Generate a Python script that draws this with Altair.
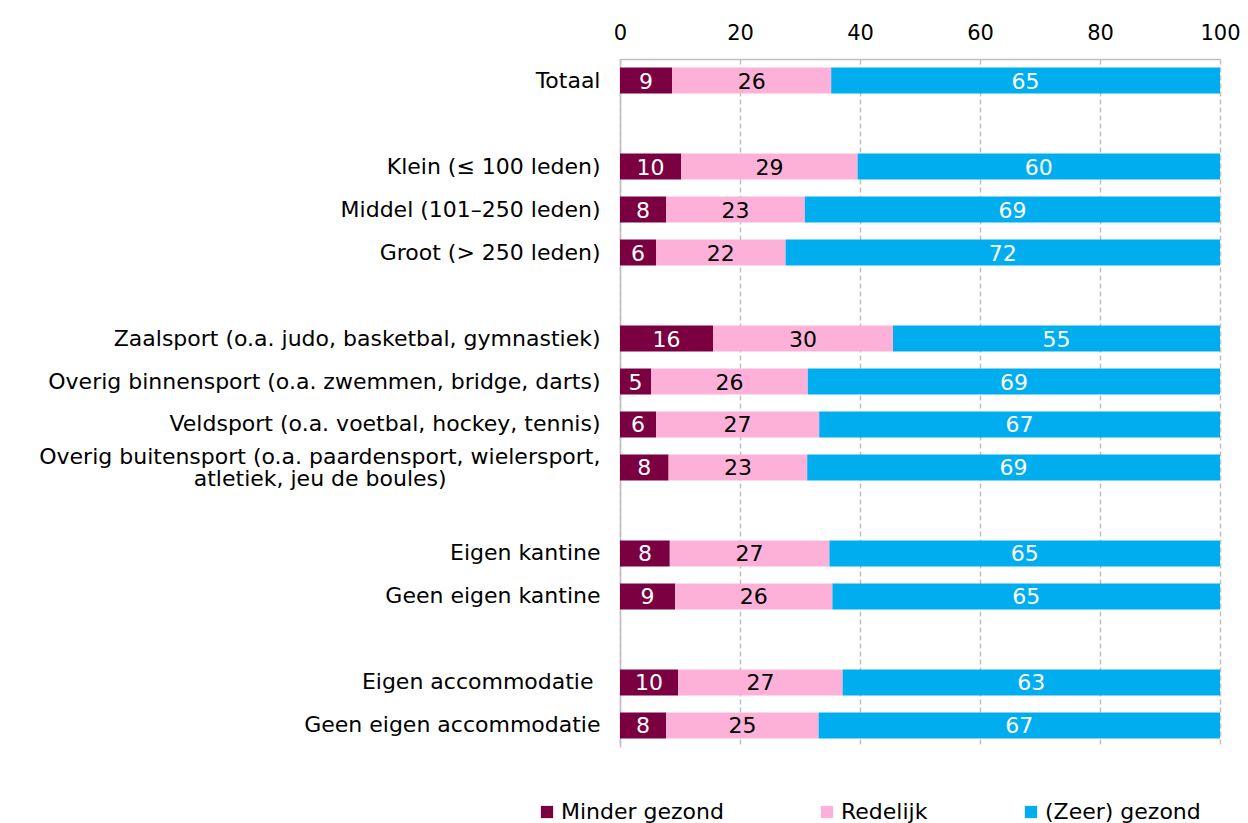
import altair as alt
import pandas as pd

NB = "\u00a0"
ZW = "\u200b"
categories = [
    "Totaal",
    "Klein (≤ 100 leden)",
    "Middel (101–250 leden)",
    "Groot (> 250 leden)",
    "Zaalsport (o.a. judo, basketbal, gymnastiek)",
    "Overig binnensport (o.a. zwemmen, bridge, darts)",
    "Veldsport (o.a. voetbal, hockey, tennis)",
    "Overig buitensport (o.a. paardensport, wielersport,|atletiek, jeu de boules)" + NB * 22 + ZW,
    "Eigen kantine",
    "Geen eigen kantine",
    "Eigen accommodatie" + NB + ZW,
    "Geen eigen accommodatie",
]
# full row order incl. empty spacer rows
rows = [categories[0], " ",
        categories[1], categories[2], categories[3], "  ",
        categories[4], categories[5], categories[6], categories[7], "   ",
        categories[8], categories[9], "    ",
        categories[10], categories[11]]

series = ["Minder gezond", "Redelijk", "(Zeer) gezond"]
colors = ["#7B0041", "#FDB1D8", "#00AEEF"]
text_colors = ["white", "black", "white"]

minder = [8.7, 10.2, 7.7, 6.0, 15.5, 5.2, 6.0, 8.1, 8.3, 9.2, 9.7, 7.7]
redelijk = [26.5, 29.4, 23.1, 21.6, 30.0, 26.1, 27.2, 23.1, 26.6, 26.2, 27.4, 25.4]
zeer = [64.8, 60.4, 69.2, 72.4, 54.5, 68.7, 66.8, 68.8, 65.1, 64.6, 62.9, 66.9]

minder_lbl = [9, 10, 8, 6, 16, 5, 6, 8, 8, 9, 10, 8]
redelijk_lbl = [26, 29, 23, 22, 30, 26, 27, 23, 27, 26, 27, 25]
zeer_lbl = [65, 60, 69, 72, 55, 69, 67, 69, 65, 65, 63, 67]

recs = []
for vals, lbls, s_i in ((minder, minder_lbl, 0), (redelijk, redelijk_lbl, 1), (zeer, zeer_lbl, 2)):
    for c, v, l in zip(categories, vals, lbls):
        recs.append({"cat": c, "series": series[s_i], "value": v, "label": str(l),
                     "order": s_i, "tcolor": text_colors[s_i]})
df = pd.DataFrame(recs)

FONT = "DejaVu Sans"
FS = 22

y_enc = alt.Y("cat:N", scale=alt.Scale(domain=rows, paddingInner=0.395, paddingOuter=0.2),
              axis=alt.Axis(title=None, ticks=False, domainColor="#BFBFBF", domainWidth=1.5,
                            labelFontSize=FS, labelFont=FONT, labelColor="black",
                            labelPadding=20, labelLimit=800, labelLineHeight=22,
                            labelOffset={"condition": {"test": "indexof(datum.value, '|') >= 0",
                                                       "value": -10}, "value": 0},
                            labelExpr="split(datum.value, '|')"))

base = alt.Chart(df)

bars = base.mark_bar().encode(
    y=y_enc,
    x=alt.X("value:Q", stack="zero", scale=alt.Scale(domain=[0, 100], nice=False),
            axis=alt.Axis(orient="top", title=None, values=[0, 20, 40, 60, 80, 100],
                          ticks=False, domainColor="#BFBFBF", domainWidth=1.5,
                          grid=True, gridColor="#BFBFBF", gridDash=[5, 3], gridWidth=1.5,
                          labelFontSize=21, labelFont=FONT, labelColor="black",
                          labelPadding=16, labelFlush=False)),
    color=alt.Color("series:N", scale=alt.Scale(domain=series, range=colors),
                    legend=alt.Legend(title=None, orient="none", direction="horizontal",
                                      legendX=-84, legendY=742, symbolType="square",
                                      symbolSize=150, symbolStrokeWidth=0, labelFontSize=FS,
                                      labelFont=FONT, labelColor="black", columnPadding=92,
                                      labelLimit=400, symbolOffset=0, labelOffset=3)),
    order=alt.Order("order:Q"),
)

text = base.transform_stack(
    stack="value", as_=["x0", "x1"], groupby=["cat"], sort=[alt.SortField("order")]
).transform_calculate(mid="(datum.x0 + datum.x1) / 2").mark_text(
    fontSize=FS, font=FONT, baseline="middle", align="center", dy=1
).encode(
    y=alt.Y("cat:N", scale=alt.Scale(domain=rows, paddingInner=0.395, paddingOuter=0.2)),
    x=alt.X("mid:Q"),
    text="label:N",
    color=alt.Color("tcolor:N", scale=None),
)

chart = (bars + text).properties(
    width=600, height=688,
    autosize=alt.AutoSizeParams(type="none"),
    padding={"left": 612, "top": 51, "right": 20, "bottom": 76},
).configure_view(stroke=None)

chart.save("out.html", embed_options={"renderer": "svg", "actions": False})
